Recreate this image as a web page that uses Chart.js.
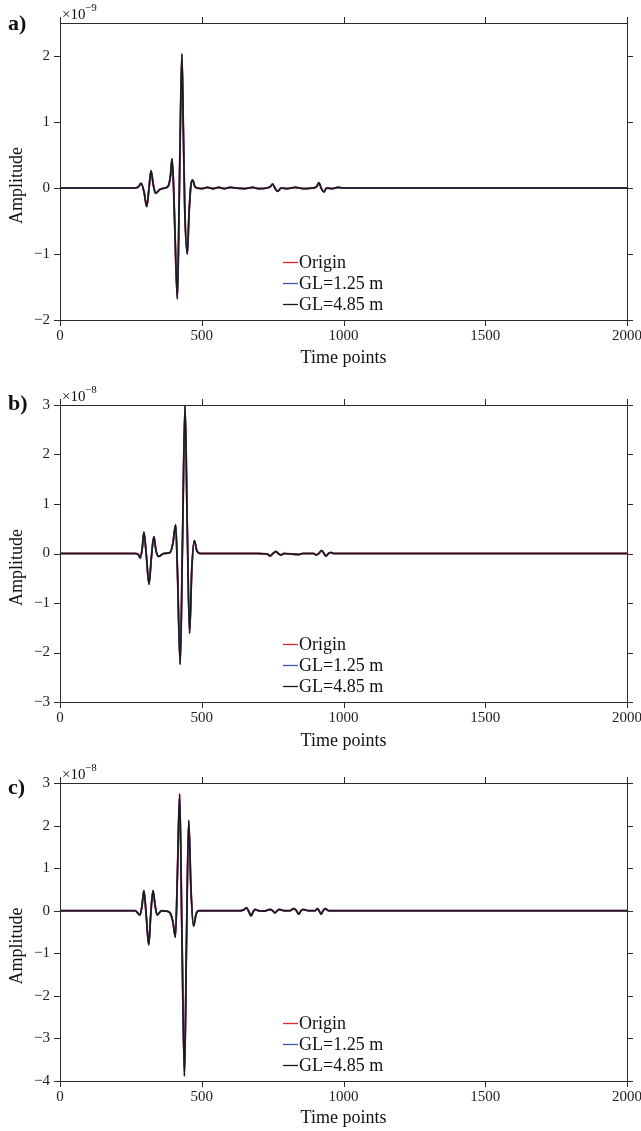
<!DOCTYPE html>
<html>
<head>
<meta charset="utf-8">
<script src="https://cdn.jsdelivr.net/npm/chart.js@4.4.0/dist/chart.umd.min.js"></script>
<style>
    body { margin: 0; background: #fff; }
    canvas { position: absolute; left: 0; }
</style>
</head>
<body>
<canvas id="chartA" width="641" height="377" style="top:0px"></canvas>
<canvas id="chartB" width="641" height="377" style="top:377px"></canvas>
<canvas id="chartC" width="641" height="377" style="top:754px"></canvas>
<script>
"use strict";

// ------------------------------------------------------- //
// Data (amplitudes in units of the axis multiplier)
// ------------------------------------------------------ //
var seriesNames = ["Origin", "GL=1.25 m", "GL=4.85 m"];
var seriesColors = ["#e8232b", "#3d5bb5", "#1a1a1a"];
var xTicks = [0, 500, 1000, 1500, 2000];

// panel a) x10^-9
var timeA = [0, 260, 275, 286, 296, 306, 314, 321, 329, 337, 353, 370, 382, 390, 395, 400, 405, 414, 420, 424, 430, 435, 440, 449, 455, 462, 468, 476, 485,
    500, 520, 540, 560, 580, 600, 620, 650, 680, 700, 730, 742, 750, 758, 768, 780, 800, 830, 860, 890, 905, 913, 921, 931, 940, 960, 980, 1000, 2000];
var originA = [0, 0, 0.01, 0.07, -0.05, -0.28, 0.0, 0.26, 0.05, -0.08, -0.02, 0.0, 0.03, 0.2, 0.44, 0.1, -0.6, -1.68, -0.3, 0.8, 2.03, 0.9, -0.3, -1.0, -0.4, 0.05, 0.12, 0.02, 0,
    -0.01, 0.01, -0.01, 0.01, -0.01, 0.01, 0, -0.01, 0.01, -0.01, 0, 0.02, 0.06, 0.0, -0.05, 0.0, -0.01, 0.01, -0.01, 0, 0.02, 0.08, 0.0, -0.06, 0.0, -0.01, 0.01, 0, 0];
// the three curves overlap in the figure
var gl125A = originA.slice();
var gl485A = originA.slice();

// panel b) x10^-8
var timeB = [0, 265, 276, 283, 290, 296, 304, 314, 322, 331, 339, 348, 366, 388, 398, 408, 414, 424, 432, 441, 449, 457, 465, 474, 483, 496,
    700, 730, 742, 751, 761, 770, 779, 790, 843, 855, 895, 904, 913, 923, 931, 938, 947, 956, 965, 2000];
var originB = [0, 0, -0.02, -0.09, 0.1, 0.43, 0.0, -0.62, -0.1, 0.34, 0.05, -0.06, 0, 0.02, 0.2, 0.58, -0.3, -2.24, 0.2, 3.0, 0.5, -1.61, -0.3, 0.26, 0.05, 0,
    0, -0.01, -0.05, 0, 0.04, 0, -0.03, 0, -0.02, 0, 0, -0.03, 0, 0.06, 0, -0.05, 0, 0.02, 0, 0];
var gl125B = originB.slice();
var gl485B = originB.slice();

// panel c) x10^-8
var timeC = [0, 265, 282, 289, 296, 304, 313, 320, 328, 336, 343, 358, 375, 388, 398, 407, 414, 422, 430, 439, 446, 454, 462, 471, 480, 489,
    635, 648, 658, 666, 674, 681, 688, 700, 720, 741, 750, 758, 766, 774, 790, 810, 825, 834, 842, 850, 858, 876, 900, 908, 914, 921, 928, 935, 948, 962, 2000];
var originC = [0, 0, -0.1, 0.1, 0.47, -0.1, -0.8, -0.1, 0.47, 0.1, -0.1, 0, -0.01, -0.05, -0.25, -0.62, 0.8, 2.74, -0.5, -3.88, -0.8, 2.12, 0.5, -0.36, -0.08, 0,
    0, 0.02, 0.07, -0.02, -0.12, -0.03, 0.03, 0.0, -0.01, 0.03, 0, -0.05, 0, 0.03, 0, 0, 0.05, 0, -0.08, 0, 0.03, 0, 0, 0.05, 0, -0.08, 0, 0.05, 0, 0, 0];
var gl125C = originC.slice();
var gl485C = originC.slice();

Chart.defaults.font.family = "'Liberation Serif', 'Times New Roman', serif";
Chart.defaults.color = "#222";

function minusSign(v) {
    return String(v).replace("-", "\u2212");
}

// frame, outward ticks, legend, panel letter and multiplier
var framePlugin = {
    id: "frame",
    afterDatasetsDraw: function (chart, args, opts) {
        var ctx = chart.ctx;
        var a = chart.chartArea;
        var xs = chart.scales.x, ys = chart.scales.y;
        var tl = 6;
        ctx.save();
        ctx.strokeStyle = "#2a2a2a";
        ctx.lineWidth = 1;
        ctx.strokeRect(Math.round(a.left) + 0.5, Math.round(a.top) + 0.5, Math.round(a.width), Math.round(a.height));
        ctx.beginPath();
        xTicks.forEach(function (v) {
            var px = Math.round(xs.getPixelForValue(v)) + 0.5;
            ctx.moveTo(px, a.bottom); ctx.lineTo(px, a.bottom + tl);
            ctx.moveTo(px, a.top); ctx.lineTo(px, a.top - tl);
        });
        ys.ticks.forEach(function (t) {
            var py = Math.round(ys.getPixelForValue(t.value)) + 0.5;
            ctx.moveTo(a.left, py); ctx.lineTo(a.left - tl, py);
            ctx.moveTo(a.right, py); ctx.lineTo(a.right + tl, py);
        });
        ctx.stroke();

        // legend
        ctx.font = "18px 'Liberation Serif'";
        ctx.textBaseline = "middle";
        ctx.textAlign = "left";
        var rows = [58, 37, 16];
        chart.data.datasets.forEach(function (ds, i) {
            var y = Math.round(a.bottom - rows[i]) + 0.5;
            ctx.strokeStyle = ds.borderColor;
            ctx.lineWidth = 1.3;
            ctx.beginPath();
            ctx.moveTo(283, y); ctx.lineTo(298, y);
            ctx.stroke();
            ctx.fillStyle = "#111";
            ctx.fillText(ds.label, 299, y + 1);
        });

        // axis titles and annotations
        ctx.fillStyle = "#111";
        ctx.save();
        ctx.translate(17, (a.top + a.bottom) / 2 + 14);
        ctx.rotate(-Math.PI / 2);
        ctx.textAlign = "center";
        ctx.fillText("Amplitude", 0, 0);
        ctx.restore();

        ctx.font = "bold 22px 'Liberation Serif'";
        ctx.textAlign = "left";
        ctx.fillText(opts.letter, 8, a.top + opts.letterDy);

        ctx.font = "15px 'Liberation Serif'";
        ctx.fillText("\u00d710", 62, a.top - 8);
        ctx.font = "11px 'Liberation Serif'";
        ctx.fillText("\u2212" + opts.exponent, 85, a.top - 15);
        ctx.restore();
    }
};

function makePanel(id, time, series, cfg) {
    var datasets = series.map(function (vals, i) {
        return {
            label: seriesNames[i],
            data: time.map(function (t, k) { return { x: t, y: vals[k] }; }),
            borderColor: seriesColors[i],
            borderWidth: [1.9, 1.7, 1.6][i],
            order: 2 - i,
            pointRadius: 0,
            cubicInterpolationMode: "monotone",
            fill: false,
        };
    });
    return new Chart(document.getElementById(id), {
        type: "line",
        data: { datasets: datasets },
        plugins: [framePlugin],
        options: {
            responsive: false,
            animation: false,
            events: [],
            layout: { padding: { top: cfg.top, right: 14, left: 0, bottom: 0 } },
            plugins: {
                legend: { display: false },
                tooltip: { enabled: false },
                frame: { letter: cfg.letter, letterDy: cfg.letterDy, exponent: cfg.exponent },
            },
            scales: {
                x: {
                    type: "linear",
                    min: 0,
                    max: 2000,
                    grid: { display: false, drawTicks: false },
                    border: { display: false },
                    afterBuildTicks: function (scale) {
                        scale.ticks = xTicks.map(function (v) { return { value: v }; });
                    },
                    afterFit: function (scale) {
                        scale.height = cfg.xHeight;
                        scale.paddingLeft = 0;
                        scale.paddingRight = 0;
                    },
                    ticks: {
                        font: { size: 15 }, padding: 7, maxRotation: 0, color: "#222",
                        callback: function (v) { return String(v); },
                    },
                    title: { display: true, text: "Time points", font: { size: 18 }, padding: { top: 0, bottom: cfg.titlePad }, color: "#111" },
                },
                y: {
                    min: cfg.yMin,
                    max: cfg.yMax,
                    grid: { display: false, drawTicks: false },
                    border: { display: false },
                    afterBuildTicks: function (scale) {
                        scale.ticks = scale.ticks.filter(function (t) { return Number.isInteger(t.value); });
                    },
                    afterFit: function (scale) { scale.width = 60; },
                    ticks: { stepSize: 1, font: { size: 15 }, padding: 10, color: "#222", callback: minusSign },
                },
            },
        },
    });
}

makePanel("chartA", timeA, [originA, gl125A, gl485A],
    { top: 23, xHeight: 57, titlePad: 8, yMin: -2, yMax: 2.5, letter: "a)", letterDy: 1, exponent: "9" });
makePanel("chartB", timeB, [originB, gl125B, gl485B],
    { top: 28, xHeight: 52, titlePad: 2, yMin: -3, yMax: 3, letter: "b)", letterDy: -1, exponent: "8" });
makePanel("chartC", timeC, [originC, gl125C, gl485C],
    { top: 29, xHeight: 50, titlePad: 2, yMin: -4, yMax: 3, letter: "c)", letterDy: 5, exponent: "8" });
</script>
</body>
</html>
